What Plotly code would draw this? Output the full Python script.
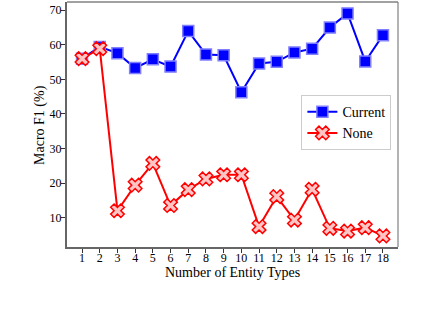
import plotly.graph_objects as go

entity_types = list(range(1, 19))
tick_labels = [str(i) for i in entity_types]
current_f1 = [56.0, 59.4, 57.6, 53.3, 55.8, 53.7, 64.0, 57.2, 57.0, 46.3,
              54.6, 55.1, 57.8, 58.9, 65.0, 69.1, 55.2, 62.8]
none_f1 = [56.0, 58.9, 12.0, 19.4, 25.7, 13.5, 18.1, 21.2, 22.4, 22.4,
           7.4, 16.1, 9.3, 18.2, 6.9, 6.1, 7.1, 4.7]

FONT = "Liberation Serif, Times New Roman, serif"

fig = go.Figure()
fig.add_trace(go.Scatter(
    x=entity_types, y=current_f1, name="Current", mode="lines+markers",
    line=dict(color="#0000ff", width=2),
    marker=dict(symbol="square", size=11, color="#0000ff",
                line=dict(color="#8080ff", width=1.5)),
))
fig.add_trace(go.Scatter(
    x=entity_types, y=none_f1, name="None", mode="lines+markers",
    line=dict(color="#ff0000", width=2),
    marker=dict(symbol="x", size=12, color="#ffc4c4",
                line=dict(color="#ff0000", width=1.5)),
))

axis_common = dict(
    showgrid=False, zeroline=False, ticks="outside", ticklen=4, tickwidth=1,
    tickcolor="#333333", showline=True, linecolor="#666666", linewidth=2,
    tickfont=dict(family=FONT, size=12, color="black"), automargin=False,
)
fig.update_xaxes(**axis_common, range=[0.15, 18.85], tickmode="array",
                 tickvals=entity_types, ticktext=tick_labels, ticklabelstandoff=-5)
fig.update_yaxes(**axis_common, range=[1.5, 72.4], tickvals=[10, 20, 30, 40, 50, 60, 70],
                 ticklabelstandoff=-3)

# axis titles
fig.add_annotation(text="Number of Entity Types", xref="paper", yref="paper",
                   x=0.5, y=-0.106, xanchor="center", yanchor="middle", showarrow=False,
                   font=dict(family=FONT, size=14, color="black"))
fig.add_annotation(text="Macro F1 (%)", xref="paper", yref="paper", textangle=-90,
                   x=-0.0816, y=0.498, xanchor="center", yanchor="middle", showarrow=False,
                   font=dict(family=FONT, size=14, color="black"))

# top and right thin spines
fig.add_shape(type="line", xref="x domain", yref="y domain", x0=0, x1=1, y0=1, y1=1,
              line=dict(color="#444444", width=1))
fig.add_shape(type="line", xref="x domain", yref="y domain", x0=1, x1=1, y0=0, y1=1,
              line=dict(color="#666666", width=1))

fig.update_layout(
    width=426, height=312,
    margin=dict(l=67, r=28, t=2, b=65, autoexpand=False),
    paper_bgcolor="white", plot_bgcolor="white",
    font=dict(family=FONT, size=14, color="black"),
    legend=dict(x=0.98, y=0.62, xanchor="right", yanchor="top",
                bgcolor="white", bordercolor="#cccccc", borderwidth=1,
                font=dict(family=FONT, size=14, color="black"),
                itemwidth=30, tracegroupgap=0),
    showlegend=True,
)

fig.write_html("out.html", config={"displayModeBar": False},
               post_script="document.body.style.margin='0';document.body.style.overflow='hidden';")
